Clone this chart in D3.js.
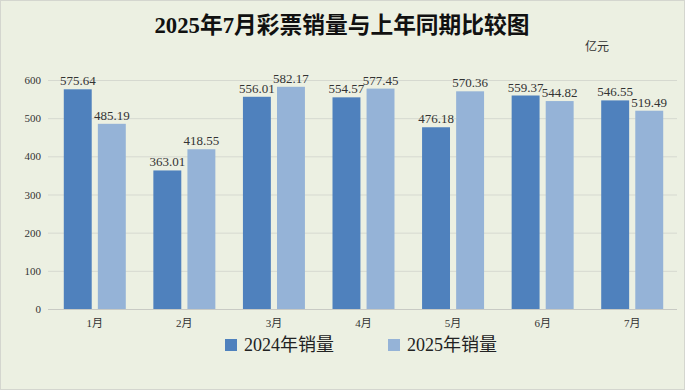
<!DOCTYPE html>
<html><head><meta charset="utf-8">
<script src="https://cdn.jsdelivr.net/npm/d3@7"></script>
<style>html,body{margin:0;padding:0;background:#fff;}svg{display:block;}</style>
</head><body>
<svg id="c" width="685" height="391"></svg>
<script>
const categories = ["1月","2月","3月","4月","5月","6月","7月"];
const seriesNames = ["2024年销量","2025年销量"];
const sales2024 = [575.64, 363.01, 556.01, 554.57, 476.18, 559.37, 546.55];
const sales2025 = [485.19, 418.55, 582.17, 577.45, 570.36, 544.82, 519.49];
const yTicks = [0,100,200,300,400,500,600];
const colors = ["#4F81BD","#95B3D7"];

const svg = d3.select("#c");
const serif = "'Liberation Serif','Noto Sans CJK SC',serif";

svg.append("rect").attr("x",0.5).attr("y",0.5).attr("width",684).attr("height",389)
  .attr("fill","#ECF0E2").attr("stroke","#D4D6CF");

svg.append("text").attr("x",342).attr("y",33).attr("text-anchor","middle")
  .attr("font-family",serif).attr("font-weight","bold").attr("font-size",23)
  .attr("textLength",375).attr("lengthAdjust","spacingAndGlyphs").attr("fill","#111")
  .text("2025年7月彩票销量与上年同期比较图");

svg.append("text").attr("x",597).attr("y",51).attr("text-anchor","middle")
  .attr("font-family",serif).attr("font-size",12).attr("fill","#333").text("亿元");

const y = d3.scaleLinear().domain([0,600]).range([309,80]);
const x = d3.scaleBand().domain(categories).range([50,677]);
const xs = d3.scaleBand().domain(seriesNames).range([0,62]).paddingInner(0.18);
const off = (x.bandwidth()-62)/2;

svg.append("g").selectAll("line").data(yTicks).join("line")
  .attr("x1",48).attr("x2",677).attr("y1",d=>y(d)+0.5).attr("y2",d=>y(d)+0.5)
  .attr("stroke",d=>d===0?"#C8CAC4":"#D6D9D0").attr("stroke-width",1);

svg.append("g").selectAll("text").data(yTicks).join("text")
  .attr("x",41).attr("y",d=>y(d)+4).attr("text-anchor","end")
  .attr("font-family",serif).attr("font-size",11).attr("fill","#333").text(d=>d);

svg.append("g").selectAll("text").data(categories).join("text")
  .attr("x",d=>x(d)+x.bandwidth()/2).attr("y",327).attr("text-anchor","middle")
  .attr("font-family",serif).attr("font-size",11).attr("fill","#333").text(d=>d);

const series = [sales2024, sales2025];
series.forEach((vals,si)=>{
  const g = svg.append("g");
  g.selectAll("rect").data(vals).join("rect")
    .attr("x",(d,i)=>x(categories[i])+off+xs(seriesNames[si]))
    .attr("y",d=>y(d)).attr("width",xs.bandwidth()).attr("height",d=>y(0)-y(d))
    .attr("fill",colors[si]);
  g.selectAll("text").data(vals).join("text")
    .attr("x",(d,i)=>x(categories[i])+off+xs(seriesNames[si])+xs.bandwidth()/2)
    .attr("y",d=>y(d)-4).attr("text-anchor","middle")
    .attr("font-family",serif).attr("font-size",13).attr("fill","#333")
    .text(d=>d.toFixed(2));
});

const legendX = [225, 388];
seriesNames.forEach((n,i)=>{
  svg.append("rect").attr("x",legendX[i]).attr("y",339).attr("width",12).attr("height",12).attr("fill",colors[i]);
  svg.append("text").attr("x",legendX[i]+19).attr("y",351)
    .attr("font-family",serif).attr("font-size",18).attr("fill","#222").text(n);
});
</script>
</body></html>
